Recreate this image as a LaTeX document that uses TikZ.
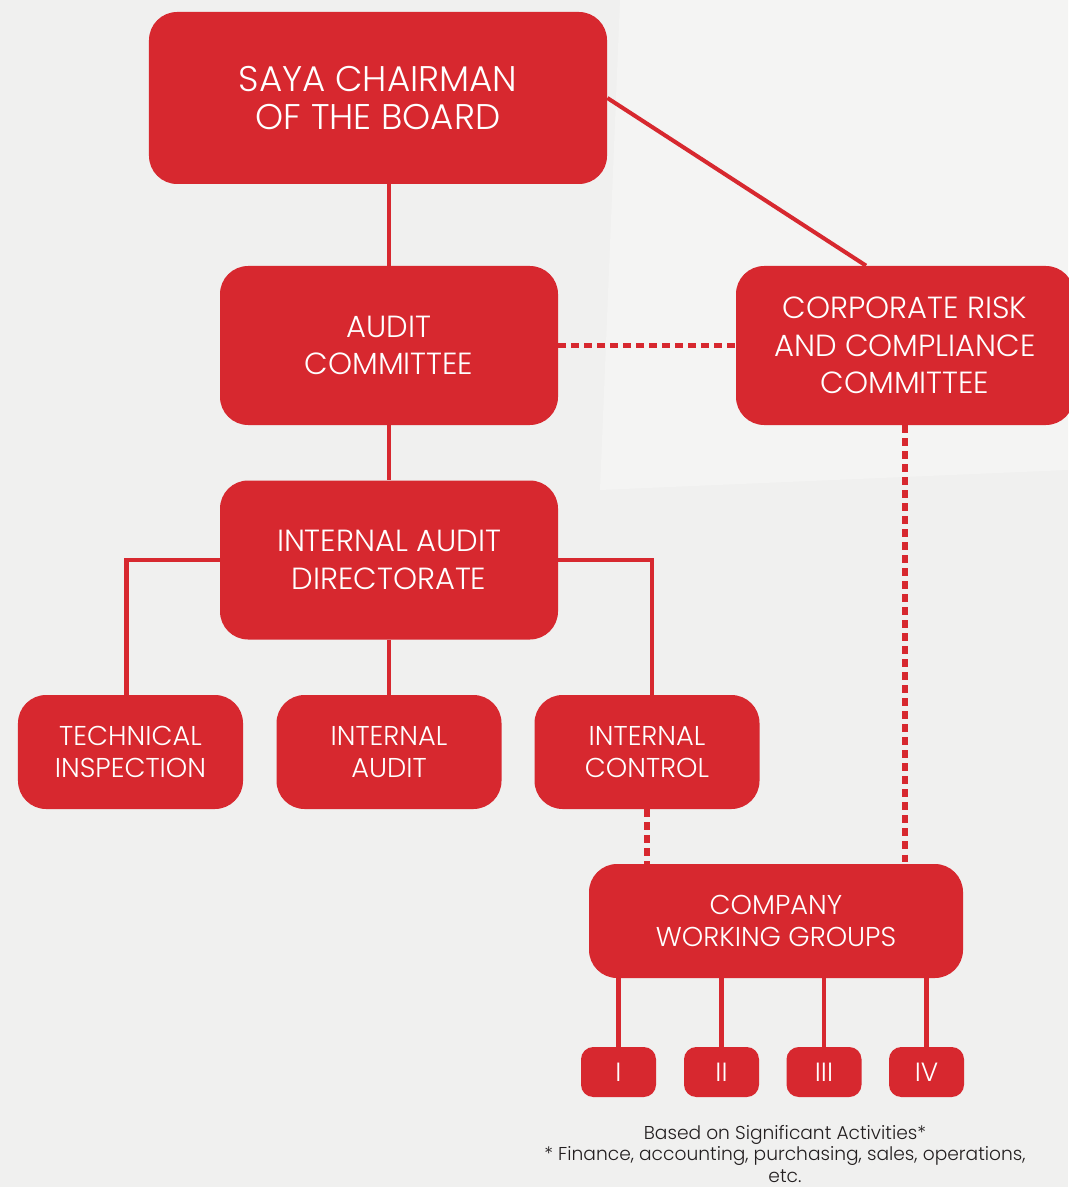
\documentclass[tikz,border=0pt]{standalone}
\usepackage{fontspec}
\setmainfont{Poppins}[UprightFont=* Light]
\usetikzlibrary{calc}
\definecolor{sayared}{RGB}{215,40,47}
\definecolor{bggray}{RGB}{240,240,239}
\definecolor{bglight}{RGB}{244,244,243}
\definecolor{notegray}{RGB}{35,31,32}
\tikzset{
  box/.style={fill=sayared,text=white,align=center,inner sep=0pt,rounded corners=16pt},
  bigbox/.style={box,minimum width=67.6mm,minimum height=31.8mm,font=\fontsize{17.4}{21.5}\selectfont},
  midbox/.style={box,minimum width=45mm,minimum height=22.8mm,font=\fontsize{15.5}{18.2}\selectfont},
  numbox/.style={box,rounded corners=7pt,minimum width=15mm,minimum height=10mm,font=\fontsize{15}{16}\selectfont},
  link/.style={draw=sayared,line width=2.3pt},
  dotlink/.style={draw=sayared,line width=3.1pt,dash pattern=on 4.2pt off 3.2pt}
}
\begin{document}
\begin{tikzpicture}[x=0.2mm,y=-0.2mm]
\useasboundingbox (0,0) rectangle (1068,1187);
\fill[bggray] (0,0) rectangle (1068,1187);
\fill[bglight] (620,0) -- (1068,0) -- (1068,470) -- (600,490) -- cycle;
% boxes
\node[box,minimum width=91.6mm,minimum height=34.4mm,font=\fontsize{20.3}{21.6}\selectfont] (chair) at (378,98) {SAYA CHAIRMAN\\OF THE BOARD};
\node[bigbox] (audit) at (389,345.5) {AUDIT\\COMMITTEE};
\node[bigbox] (corp) at (905,345.5) {CORPORATE RISK\\AND COMPLIANCE\\COMMITTEE};
\node[bigbox] (iad) at (389,560) {INTERNAL AUDIT\\DIRECTORATE};
\node[midbox] (tech) at (130.5,752) {TECHNICAL\\INSPECTION};
\node[midbox] (iaud) at (389,752) {INTERNAL\\AUDIT};
\node[midbox] (ictl) at (647,752) {INTERNAL\\CONTROL};
\node[midbox,minimum width=74.8mm] (cwg) at (776,921) {COMPANY\\WORKING GROUPS};
\node[numbox] (g1) at (618.5,1072) {I};
\node[numbox] (g2) at (721.5,1072) {II};
\node[numbox] (g3) at (824,1072) {III};
\node[numbox] (g4) at (926.5,1072) {IV};
\node[text=notegray,align=center,font=\fontsize{10.6}{12.4}\selectfont] (note) at (785,1154)
  {Based on Significant Activities*\\* Finance, accounting, purchasing, sales, operations,\\etc.};
% connectors
\draw[link] (chair.south -| audit.north) -- (audit.north);
\draw[link] (chair.east) -- ($(corp.north)+(-39,0)$);
\draw[dotlink] (audit.east) -- (audit.east -| corp.west);
\draw[link] (audit) -- (iad);
\draw[link] (iad.west) -| ($(tech.north)+(-4,0)$);
\draw[link] (iad) -- (iaud);
\draw[link] (iad.east) -| ($(ictl.north)+(5,0)$);
\draw[dotlink] (ictl.south) -- (ictl.south |- cwg.north);
\draw[dotlink] (corp.south) -- (corp.south |- cwg.north);
\foreach \g in {g1,g2,g3,g4}
  \draw[link] (cwg.south -| \g.north) -- (\g.north);
\end{tikzpicture}
\end{document}
